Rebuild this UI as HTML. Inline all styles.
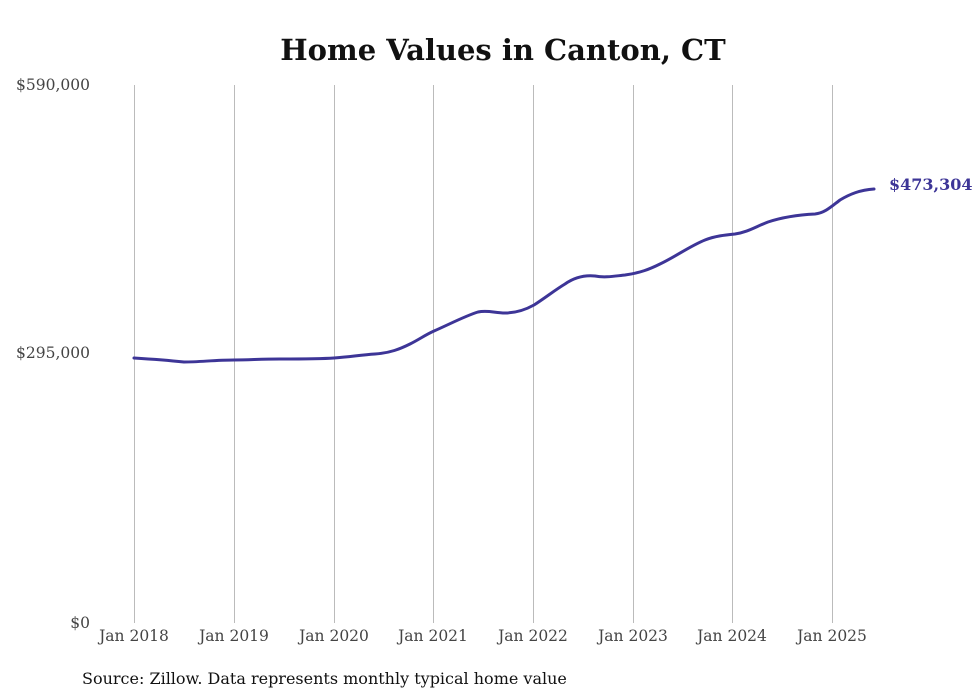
<!DOCTYPE html>
<html><head><meta charset="utf-8"><style>
body{margin:0;background:#fff;}
svg{display:block;font-family:"DejaVu Serif","Liberation Serif",serif;}
</style></head><body>
<svg width="980" height="699" viewBox="0 0 980 699">
<rect width="980" height="699" fill="#fff"/>
<text x="503" y="60" text-anchor="middle" font-size="29" font-weight="bold" fill="#111">Home Values in Canton, CT</text>
<g stroke="#bbb" stroke-width="1">
<line x1="134.5" y1="85" x2="134.5" y2="623"/>
<line x1="234.5" y1="85" x2="234.5" y2="623"/>
<line x1="334.5" y1="85" x2="334.5" y2="623"/>
<line x1="433.5" y1="85" x2="433.5" y2="623"/>
<line x1="533.5" y1="85" x2="533.5" y2="623"/>
<line x1="633.5" y1="85" x2="633.5" y2="623"/>
<line x1="732.5" y1="85" x2="732.5" y2="623"/>
<line x1="832.5" y1="85" x2="832.5" y2="623"/>
</g>
<g font-size="15.5" fill="#444">
<text x="90" y="90" text-anchor="end">$590,000</text>
<text x="90" y="358" text-anchor="end">$295,000</text>
<text x="90" y="628" text-anchor="end">$0</text>
</g>
<g font-size="15.5" fill="#444" text-anchor="middle">
<text x="134" y="641">Jan 2018</text>
<text x="234" y="641">Jan 2019</text>
<text x="334" y="641">Jan 2020</text>
<text x="433" y="641">Jan 2021</text>
<text x="533" y="641">Jan 2022</text>
<text x="633" y="641">Jan 2023</text>
<text x="732" y="641">Jan 2024</text>
<text x="832" y="641">Jan 2025</text>
</g>
<path fill="none" stroke="#3d3597" stroke-width="3" stroke-linejoin="round" stroke-linecap="round"
d="M134,358 C150,359 165,360 184,362 C200,362 215,360 234,360 C250,360 260,359 280,359 C300,359 320,359 334,358 C350,357 360,355 375,354 C390,353 400,349 410,344 C420,339 425,335 434,331 C450,324 465,316 478,312 C488,310 495,313 505,313 C515,313 525,310 534,305 C545,298 555,290 565,284 C575,277 585,275 595,276 C605,278 615,276 625,275 C640,273 650,269 660,264 C675,257 690,246 705,240 C715,236 725,235 735,234 C748,232 755,227 768,222 C780,218 795,215 815,214 C825,213 832,206 840,200 C850,194 860,190 874,189"/>
<text x="889" y="190" font-size="16" font-weight="bold" fill="#3d3597">$473,304</text>
<text x="82" y="684" font-size="16" fill="#111">Source: Zillow. Data represents monthly typical home value</text>
</svg>
</body></html>
